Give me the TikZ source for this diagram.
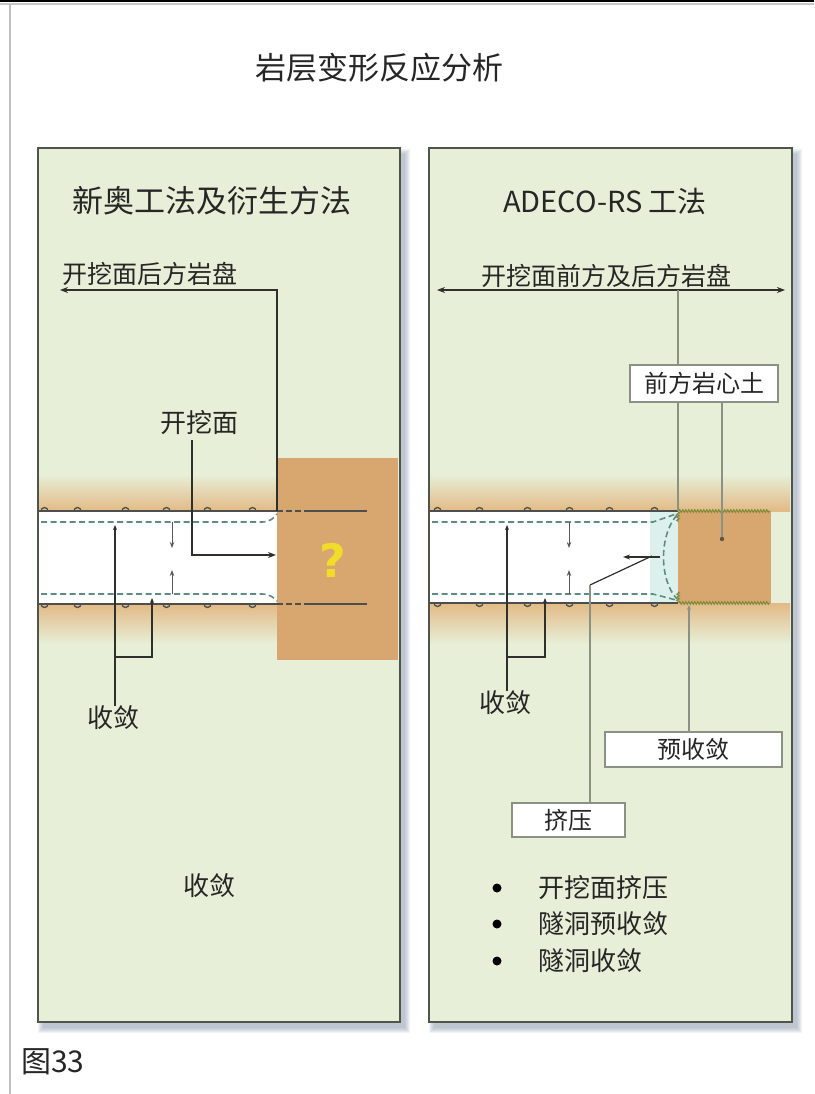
\documentclass[tikz,border=0pt]{standalone}
\usepackage{fontspec}
\setmainfont{Noto Sans CJK SC}
\newfontfamily\qfont{DejaVu Sans}
\usetikzlibrary{arrows.meta,calc,decorations.pathmorphing,positioning}

\definecolor{panelfill}{HTML}{E7EFD8}
\definecolor{paneledge}{HTML}{4E564C}
\definecolor{shadowc}{HTML}{7F8FA6}
\definecolor{rock}{HTML}{E2BA86}
\definecolor{corefill}{HTML}{D8A66F}
\definecolor{lining}{HTML}{5E8C84}
\definecolor{glass}{HTML}{DDF1EC}
\definecolor{leader}{HTML}{2E302C}
\definecolor{thinleader}{HTML}{8A9284}
\definecolor{query}{HTML}{F2DC2A}
\definecolor{crust}{HTML}{7C8A38}
\definecolor{ink}{HTML}{262626}

\newcommand{\fsz}[1]{\fontsize{#1}{#1}\selectfont}

\tikzset{
  panel/.style={draw=paneledge, line width=1.6pt, fill=panelfill},
  wall/.style={draw=leader!85, line width=1.3pt},
  liner/.style={draw=lining, line width=1.6pt, dash pattern=on 6pt off 3.5pt},
  leadline/.style={draw=leader, line width=1.5pt},
  thinline/.style={draw=thinleader, line width=1.2pt},
  conv/.style={draw=leader!80, line width=0.9pt, -{Stealth[length=6pt,width=4.5pt]}},
  lbl/.style={font=\fsz{25}, text=ink, inner sep=0pt},
  tagbox/.style={draw=thinleader, line width=1.2pt, fill=white, font=\fsz{24}, text=ink},
  zig/.style={draw=crust, line width=1pt, decorate,
    decoration={zigzag, segment length=3pt, amplitude=1.3pt}},
}

\begin{document}
\begin{tikzpicture}[x=1pt, y=-1pt]
  \useasboundingbox (0,0) rectangle (814,1094);
  \fill[white] (0,0) rectangle (814,1094);

  % page frame
  \draw[black, line width=2pt] (0,1) -- (814,1);
  \draw[black!22, line width=1.2pt] (0,4) -- (814,4);
  \draw[black!25, line width=1.2pt] (10,4) -- (10,1094);

  % title
  \node[font=\fsz{31}, text=ink] (title) at (379,68) {岩层变形反应分析};

  % panels with soft shadows
  \foreach \xa/\xb in {38/400, 429/792}{
    \foreach \k in {0,...,5}
      \fill[shadowc, fill opacity=0.1] (\xa+5-\k,148+6-\k) rectangle (\xb+5+\k,1022+6+\k);
    \draw[panel] (\xa,148) rectangle (\xb,1022);
  }
  \node[font=\fsz{31}, text=ink] (hdL) at (212,201) {新奥工法及衍生方法};
  \node[font=\fsz{29}, text=ink] (hdR) at (605,201) {ADECO-RS 工法};

  %% ---------- left: NATM ----------
  % rock halo round the bore
  \shade[top color=panelfill, bottom color=rock] (39,474) rectangle (277,511);
  \shade[top color=rock, bottom color=panelfill] (39,604) rectangle (277,644);
  \fill[white] (39,511) rectangle (277,604);
  % unknown ground ahead of the face
  \fill[corefill] (277,458) rectangle (398,660);
  \node[text=query, font=\qfont\bfseries\fsz{46}] (unknown) at (333,560) {?};

  % tunnel walls
  \draw[wall] (39,511) -- (277,511);
  \draw[wall] (39,604) -- (277,604);
  \foreach \b in {45,78,126,167,208,253}{
    \draw[wall] (\b-4,511) arc[start angle=180, end angle=0, radius=3.5pt];
    \draw[wall] (\b-4,604) arc[start angle=180, end angle=360, radius=3.5pt];
  }
  \draw[wall, dash pattern=on 6pt off 3pt] (277,511) -- (307,511);
  \draw[wall, dash pattern=on 6pt off 3pt] (277,604) -- (307,604);
  \draw[wall] (307,511) -- (367,511);
  \draw[wall] (307,604) -- (367,604);

  % deformed lining
  \draw[liner] (41,522) -- (262,522) .. controls (270,522) and (274,518) .. (277,514);
  \draw[liner] (41,594) -- (262,594) .. controls (270,594) and (274,598) .. (277,601);

  % convergence arrows
  \coordinate (cuL) at (172,522);
  \coordinate (cdL) at (172,594);
  \draw[conv] (cuL) -- ++(0,26);
  \draw[conv] (cdL) -- ++(0,-24);

  % ground behind the face
  \coordinate (faceL) at (277,511);
  \coordinate (rearL) at (60,290);
  \draw[leadline, -{Stealth[length=8pt,width=6pt]}] (faceL) |- (rearL);
  \node[lbl, anchor=south west] (rearlbl) at (62,286) {开挖面后方岩盘};

  % the face
  \node[lbl, font=\fsz{26}] (facelbl) at (199,423) {开挖面};
  \coordinate (facept) at (276,555);
  \draw[leadline, -{Stealth[length=8pt,width=6pt]}] ([xshift=-7pt,yshift=-5pt]facelbl.south) |- (facept);

  % convergence
  \node[lbl, font=\fsz{26}] (convL) at (113,718) {收敛};
  \coordinate (ctL) at (115,525);
  \coordinate (cbL) at (152,598);
  \coordinate (ckL) at (115,657);
  \draw[leadline, {Stealth[length=5pt,width=4pt]}-] (ctL) -- (ctL |- convL.north);
  \draw[leadline, {Stealth[length=5pt,width=4pt]}-] (cbL) |- (ckL);

  \node[lbl, font=\fsz{26}] (summL) at (209,886) {收敛};

  %% ---------- right: ADECO-RS ----------
  \shade[top color=panelfill, bottom color=rock] (430,474) rectangle (790,511);
  \shade[top color=rock, bottom color=panelfill] (430,603) rectangle (790,644);
  \fill[white] (430,511) rectangle (678,603);
  \fill[glass] (650,511) -- (678,511) -- (678,603) -- (650,603) -- cycle;
  \fill[white] (430,524) rectangle (650,592);

  % core ahead of the face
  \fill[corefill] (678,511) rectangle (771,603);
  \draw[zig] (679,511) -- (770,511);
  \draw[zig] (679,603) -- (770,603);
  \draw[zig] (678,512) -- (678,522);
  \draw[zig] (678,592) -- (678,602);

  % tunnel walls
  \draw[wall] (430,511) -- (678,511);
  \draw[wall] (430,603) -- (678,603);
  \foreach \b in {438,480,528,570,610,655}{
    \draw[wall] (\b-4,511) arc[start angle=180, end angle=0, radius=3.5pt];
    \draw[wall] (\b-4,603) arc[start angle=180, end angle=360, radius=3.5pt];
  }

  % deformed lining and extruded face
  \draw[liner] (432,522) -- (653,522) -- (676,514);
  \draw[liner] (432,594) -- (653,594) -- (676,600);
  \draw[liner] (677,515) .. controls (659,535) and (659,580) .. (677,599);

  % convergence arrows
  \coordinate (cuR) at (569,522);
  \coordinate (cdR) at (569,594);
  \draw[conv] (cuR) -- ++(0,26);
  \draw[conv] (cdR) -- ++(0,-24);

  % ground ahead of and behind the face
  \coordinate (spanA) at (437,290);
  \coordinate (spanB) at (785,290);
  \draw[leadline, {Stealth[length=8pt,width=6pt]}-{Stealth[length=8pt,width=6pt]}] (spanA) -- (spanB);
  \node[lbl] (spanlbl) at (606,276) {开挖面前方及后方岩盘};

  % core
  \node[tagbox, minimum width=148pt, minimum height=37pt] (coreR) at (704,383.5) {前方岩心土};
  \coordinate (faceR) at (678,290);
  \coordinate (faceRb) at (678,511);
  \draw[thinline] (faceR) -- (faceR |- coreR.north);
  \draw[thinline] (faceR |- coreR.south) -- (faceRb);
  \coordinate (coredot) at (722,539);
  \draw[thinline] (coredot |- coreR.south) -- (coredot);
  \fill[leader!70!corefill] (coredot) circle (2.2pt);

  % pre-convergence
  \node[tagbox, minimum width=177pt, minimum height=35pt] (precon) at (693.5,749.5) {预收敛};
  \coordinate (pretip) at (689,605);
  \draw[thinline, {Stealth[length=5pt,width=4pt]}-] (pretip) -- (pretip |- precon.north);

  % extrusion
  \node[tagbox, minimum width=113pt, minimum height=34pt] (squeeze) at (568.5,820) {挤压};
  \coordinate (pushA) at (660,557);
  \coordinate (pushB) at (623,557);
  \coordinate (pushK) at (590,585);
  \draw[leadline, line width=1.2pt, -{Stealth[length=7pt,width=5pt]}] (pushA) -- (pushB);
  \draw[leadline, line width=1.2pt] (652,556) -- (pushK);
  \draw[thinline] (pushK) -- (pushK |- squeeze.north);

  % convergence
  \node[lbl, font=\fsz{26}] (convR) at (505,703) {收敛};
  \coordinate (ctR) at (507,525);
  \coordinate (cbR) at (545,598);
  \coordinate (ckR) at (507,657);
  \draw[leadline, {Stealth[length=5pt,width=4pt]}-] (ctR) -- (ctR |- convR.north);
  \draw[leadline, {Stealth[length=5pt,width=4pt]}-] (cbR) |- (ckR);

  % summary list
  \foreach \y/\t [count=\i] in {888/开挖面挤压, 924/隧洞预收敛, 961/隧洞收敛}{
    \fill[black] (497,\y) circle (4.5pt);
    \node[lbl, font=\fsz{26}, anchor=west] (item\i) at (538,\y) {\t};
  }

  % figure number
  \node[font=\fsz{30}, text=ink, anchor=west, inner sep=0pt] (figno) at (21,1062) {图33};
\end{tikzpicture}
\end{document}
